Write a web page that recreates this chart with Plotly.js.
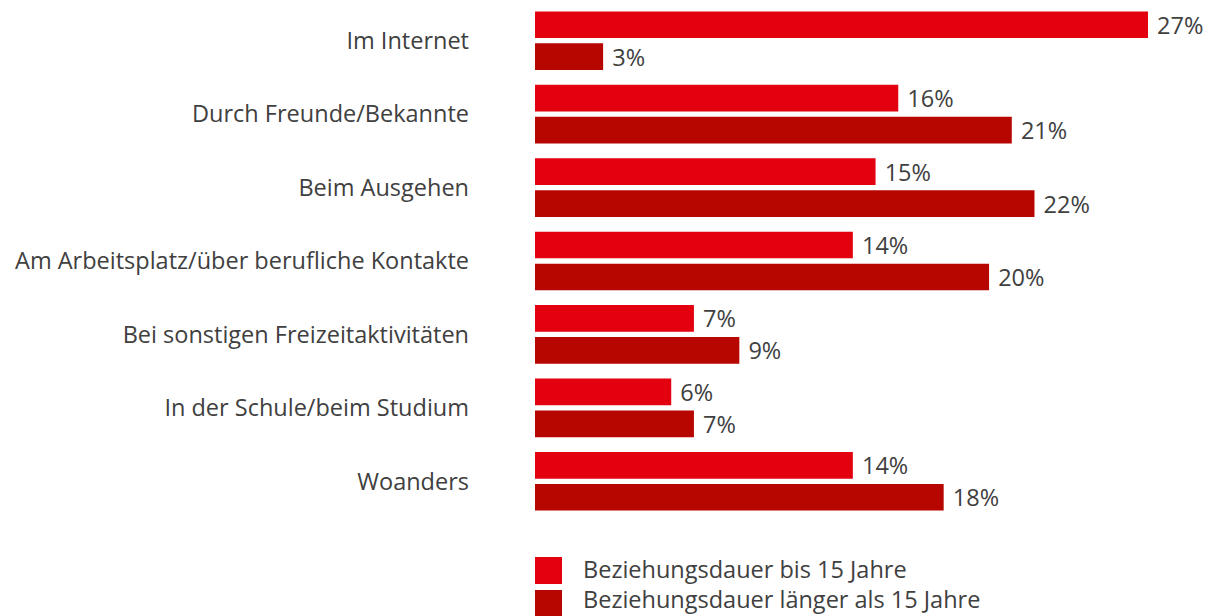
<!DOCTYPE html>
<html>
<head>
<meta charset="utf-8">
<script src="https://cdn.plot.ly/plotly-3.0.1.min.js"></script>
<style>html,body{margin:0;padding:0;background:#fff;}#chart{width:1211px;height:616px;}</style>
</head>
<body>
<div id="chart"></div>
<script>
const categories = [
  "Im Internet",
  "Durch Freunde/Bekannte",
  "Beim Ausgehen",
  "Am Arbeitsplatz/über berufliche Kontakte",
  "Bei sonstigen Freizeitaktivitäten",
  "In der Schule/beim Studium",
  "Woanders"
];
const seriesNames = ["Beziehungsdauer bis 15 Jahre", "Beziehungsdauer länger als 15 Jahre"];
const valuesBis15 = [27, 16, 15, 14, 7, 6, 14];
const valuesLaenger15 = [3, 21, 22, 20, 9, 7, 18];
const colors = ["#E3000F", "#B70500"];

const W = 1211, H = 616;
const M = {l: 535, r: 63, t: 4, b: 98};
const plotW = W - M.l - M.r, plotH = H - M.t - M.b;
const px2x = p => (p - M.l) / plotW;
const px2y = p => (H - M.b - p) / plotH;

const FONT = "'Open Sans', sans-serif";
const FS = 23.5;
const TXT = "#404040";

function mk(vals, i) {
  return {
    type: "bar", orientation: "h",
    y: categories, x: vals, name: seriesNames[i],
    marker: {color: colors[i]},
    text: vals.map(v => " " + v + "%"),
    textposition: "outside",
    constraintext: "none",
    textfont: {family: FONT, size: FS, color: TXT},
    cliponaxis: false,
    hoverinfo: "none"
  };
}

const data = [mk(valuesBis15, 0), mk(valuesLaenger15, 1)];

const shapes = [], annotations = [];
const legRows = [[557, 584], [590, 616]];
const legTextY = [569, 599];
seriesNames.forEach((n, i) => {
  shapes.push({type: "rect", xref: "paper", yref: "paper",
    x0: px2x(535), x1: px2x(562), y0: px2y(legRows[i][1]), y1: px2y(legRows[i][0]),
    fillcolor: colors[i], line: {width: 0}});
  annotations.push({xref: "paper", yref: "paper", x: px2x(581), y: px2y(legTextY[i]),
    xanchor: "left", yanchor: "middle", text: n, showarrow: false,
    font: {family: FONT, size: FS, color: TXT}});
});

const layout = {
  width: W, height: H,
  margin: M,
  paper_bgcolor: "#fff", plot_bgcolor: "#fff",
  barmode: "group", bargap: 0.129, bargroupgap: 0.166,
  showlegend: false,
  font: {family: FONT, size: FS, color: TXT},
  xaxis: {range: [0, 27], visible: false, fixedrange: true},
  yaxis: {autorange: "reversed", type: "category", showgrid: false, zeroline: false, showline: false,
    ticks: "", ticklabelstandoff: 65, tickfont: {family: FONT, size: FS, color: TXT}, fixedrange: true},
  shapes: shapes, annotations: annotations
};

Plotly.newPlot("chart", data, layout, {displayModeBar: false, staticPlot: true});
</script>
</body>
</html>
